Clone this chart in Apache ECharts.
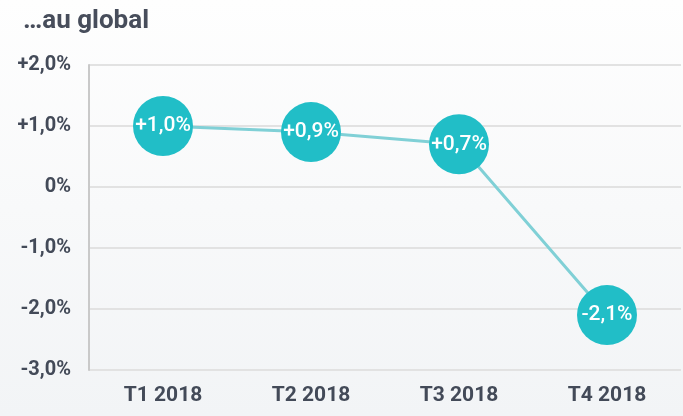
<!DOCTYPE html>
<html><head><meta charset="utf-8">
<script src="https://cdn.jsdelivr.net/npm/echarts@6/dist/echarts.min.js"></script>
<style>html,body{margin:0;padding:0}#c{width:683px;height:416px}</style>
</head><body><div id="c"></div>
<script>
const categories = ['T1 2018', 'T2 2018', 'T3 2018', 'T4 2018'];
const values = [1.0, 0.9, 0.7, -2.1];
const labels = ['+1,0%', '+0,9%', '+0,7%', '-2,1%'];
const yMin = -3, yMax = 2, yStep = 1;
const title = '…au global';

function fmtTick(v) {
  if (v === 0) return '0%';
  const s = Math.abs(v).toFixed(1).replace('.', ',') + '%';
  return (v > 0 ? '+' : '-') + s;
}

const chart = echarts.init(document.getElementById('c'), null, {renderer: 'canvas'});
chart.setOption({
  backgroundColor: new echarts.graphic.LinearGradient(0, 0, 0, 1, [
    {offset: 0, color: '#fefefe'}, {offset: 1, color: '#f2f4f6'}
  ]),
  animation: false,
  title: {
    text: title, left: 18, top: 3,
    textStyle: {fontFamily: 'Roboto', fontWeight: 'bold', fontSize: 26, color: '#474d5b'}
  },
  grid: {left: 89, right: 2, top: 65, bottom: 46, containLabel: false},
  xAxis: {
    type: 'category', data: categories, boundaryGap: true,
    axisLine: {show: false}, axisTick: {show: false},
    axisLabel: {margin: 15, fontFamily: 'Roboto', fontWeight: 'bold', fontSize: 21, color: '#434a58'}
  },
  yAxis: {
    type: 'value', min: yMin, max: yMax, interval: yStep,
    axisLine: {show: true, lineStyle: {color: '#c9c9c9', width: 2}},
    axisTick: {show: false},
    splitLine: {lineStyle: {color: '#e2e2e2', width: 2}},
    axisLabel: {margin: 18, formatter: fmtTick, fontFamily: 'Roboto', fontWeight: 'bold', fontSize: 20, color: '#434a58'}
  },
  series: [{
    type: 'line', data: values,
    lineStyle: {color: '#80d0d6', width: 3},
    symbol: 'circle', symbolSize: 60,
    itemStyle: {color: '#21bec7'},
    label: {
      show: true, position: 'inside',
      formatter: p => labels[p.dataIndex],
      fontFamily: 'Roboto', fontWeight: 500, fontSize: 21, color: '#ffffff'
    },
    z: 3
  }]
});
</script></body></html>
